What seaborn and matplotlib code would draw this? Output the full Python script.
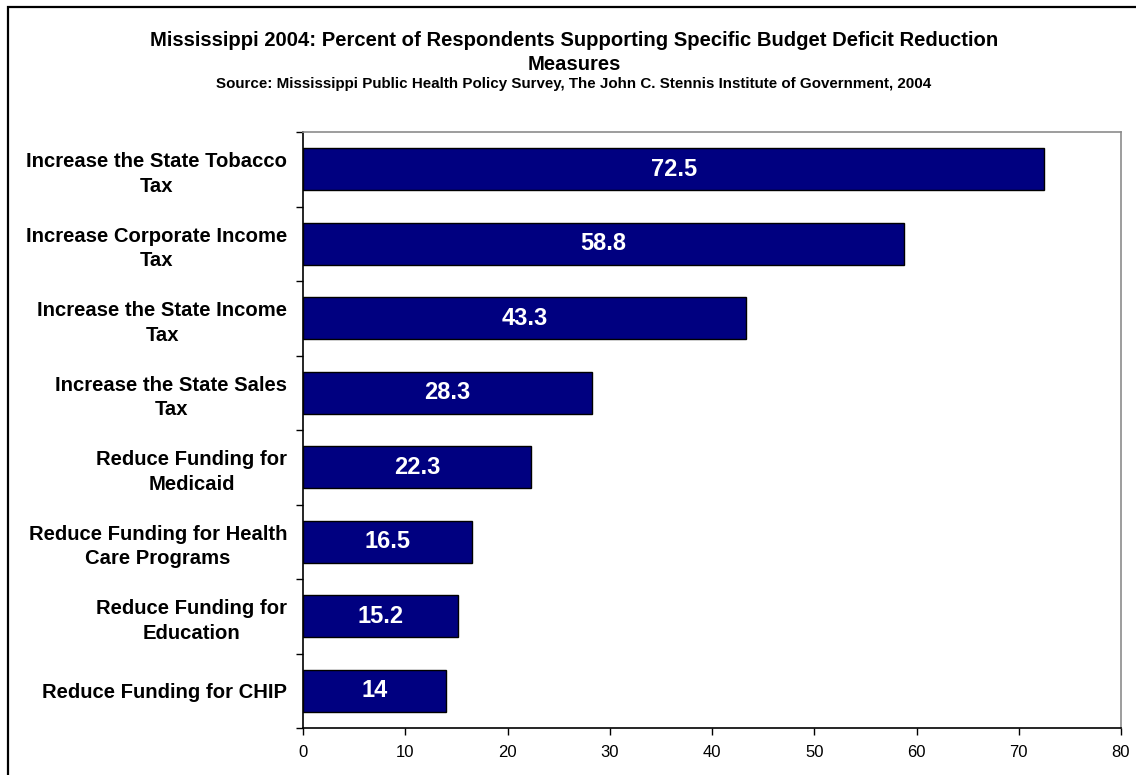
import matplotlib
matplotlib.use("Agg")
import matplotlib.pyplot as plt
from matplotlib.patches import Rectangle
from matplotlib.ticker import FixedLocator
import seaborn as sns
import pandas as pd

# Survey results: share of respondents supporting each measure (%)
measures = [
    "Increase the State Tobacco\nTax",
    "Increase Corporate Income\nTax",
    "Increase the State Income\nTax",
    "Increase the State Sales\nTax",
    "Reduce Funding for\nMedicaid",
    "Reduce Funding for Health\nCare Programs",
    "Reduce Funding for\nEducation",
    "Reduce Funding for CHIP",
]
support = [72.5, 58.8, 43.3, 28.3, 22.3, 16.5, 15.2, 14.0]
value_labels = ["72.5", "58.8", "43.3", "28.3", "22.3", "16.5", "15.2", "14"]
x_ticks = [0, 10, 20, 30, 40, 50, 60, 70, 80]

title = ("Mississippi 2004: Percent of Respondents Supporting Specific Budget Deficit Reduction\n"
         "Measures")
subtitle = "Source: Mississippi Public Health Policy Survey, The John C. Stennis Institute of Government, 2004"

sns.set_theme(style="white")
plt.rcParams["font.family"] = ["Liberation Sans", "DejaVu Sans"]
plt.rcParams["text.color"] = "black"

df = pd.DataFrame({"measure": measures, "support": support})

fig = plt.figure(figsize=(11.36, 7.75), dpi=100)
ax = fig.add_axes([303 / 1136, 1 - 728 / 775, (1121 - 303) / 1136, (728 - 132) / 775])

sns.barplot(data=df, y="measure", x="support", orient="h", order=measures,
            color="#000080", saturation=1, width=0.56,
            edgecolor="black", linewidth=1.0, ax=ax)

ax.set_xlim(0, 80)
ax.set_ylim(len(measures) - 0.5, -0.5)
ax.set_xlabel("")
ax.set_ylabel("")

# Value labels centred inside each bar
for i, (v, lab) in enumerate(zip(support, value_labels)):
    ax.text(v / 2, i, lab, ha="center", va="center", color="white",
            fontsize=17, fontweight="bold")

# X axis ticks
ax.set_xticks(x_ticks)
ax.set_xticklabels([str(t) for t in x_ticks], fontsize=12, color="black")
ax.tick_params(axis="x", direction="out", length=5, width=1, color="black", pad=7,
               bottom=True)

# Y axis: labels at category centres, tick marks at category boundaries
ax.set_yticks(range(len(measures)))
ax.set_yticklabels(measures, fontsize=14.6, fontweight="bold", color="black",
                   linespacing=1.38, ha="right", multialignment="center")
ax.tick_params(axis="y", which="major", length=0, pad=11.5)
ax.yaxis.set_minor_locator(FixedLocator([i - 0.5 for i in range(len(measures) + 1)]))
ax.tick_params(axis="y", which="minor", direction="out", length=5, width=1,
               color="black", left=True)

for side in ("left", "bottom"):
    ax.spines[side].set_color("black")
    ax.spines[side].set_linewidth(1.2)
for side in ("top", "right"):
    ax.spines[side].set_color("#8c8c8c")
    ax.spines[side].set_linewidth(1.2)

fig.text(574 / 1136, 1 - 52.5 / 775, title, ha="center", va="center",
         fontsize=14.6, fontweight="bold", linespacing=1.38, color="black")
fig.text(574 / 1136, 1 - 84 / 775, subtitle, ha="center", va="center",
         fontsize=10.9, fontweight="bold", color="black")

# Outer frame around the chart
fig.patches.append(Rectangle((8 / 1136, -0.05), 1.2, 1 - 7 / 775 + 0.05,
                             transform=fig.transFigure, fill=False,
                             edgecolor="black", linewidth=1.6))

fig.savefig("out.png", dpi=100, facecolor="white")
